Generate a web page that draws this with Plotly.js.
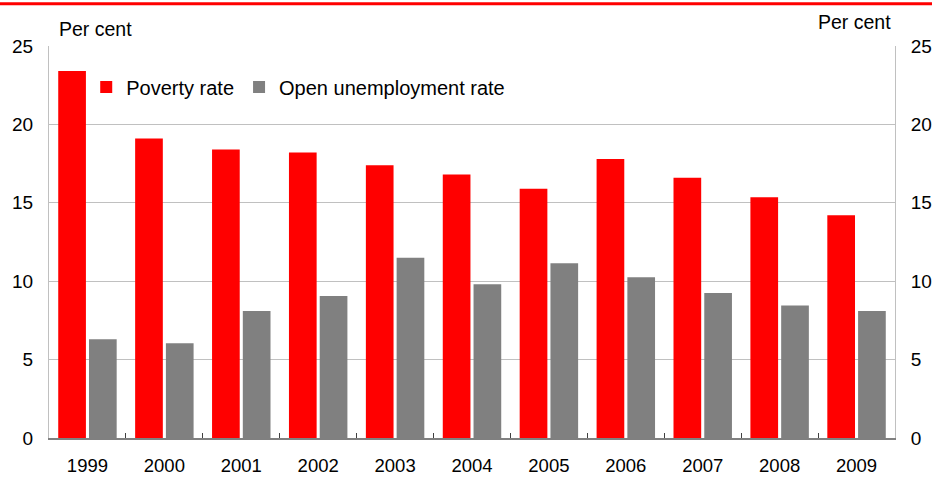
<!DOCTYPE html>
<html>
<head>
<meta charset="utf-8">
<script src="https://cdn.plot.ly/plotly-3.0.1.min.js"></script>
<style>html,body{margin:0;padding:0;background:#fff;}#chart{width:932px;height:477px;}</style>
</head>
<body>
<div id="chart"></div>
<script>
var years = ["1999","2000","2001","2002","2003","2004","2005","2006","2007","2008","2009"];
var povertyRate = [23.4, 19.1, 18.4, 18.2, 17.4, 16.8, 15.9, 17.8, 16.6, 15.35, 14.2];
var unemploymentRate = [6.3, 6.05, 8.1, 9.05, 11.5, 9.8, 11.15, 10.25, 9.25, 8.45, 8.1];
var yTicks = [0, 5, 10, 15, 20, 25];

var FAM = "Liberation Sans, Arial, sans-serif";
var font = {family: FAM, size: 19, color: "#000"};

var traces = [
  {type: "bar", name: "Poverty rate", x: years, y: povertyRate, marker: {color: "#FF0000"}, hoverinfo: "none"},
  {type: "bar", name: "Open unemployment rate", x: years, y: unemploymentRate, marker: {color: "#808080"}, hoverinfo: "none"},
  // carrier for the right-hand axis (invisible)
  {type: "scatter", mode: "markers", x: years, y: povertyRate, yaxis: "y2", showlegend: false,
   marker: {opacity: 0, size: 1}, hoverinfo: "none"}
];

var layout = {
  width: 932, height: 477,
  margin: {l: 49, r: 37, t: 46, b: 39, pad: 0, autoexpand: false},
  paper_bgcolor: "#fff", plot_bgcolor: "#fff",
  font: font,
  barmode: "group", bargap: 0.2, bargroupgap: 0.1,
  showlegend: true,
  legend: {orientation: "h", x: 0.044, y: 0.945, xanchor: "left", yanchor: "top",
           font: {family: FAM, size: 20, color: "#000"}, bgcolor: "rgba(0,0,0,0)",
           itemwidth: 30, tracegroupgap: 0},
  xaxis: {type: "category", range: [-0.5, years.length - 0.5], automargin: false, showgrid: false, showline: true,
          linecolor: "#808080", linewidth: 1.5,
          ticks: "inside", tickson: "boundaries", ticklen: 5, tickcolor: "#404040",
          ticklabelstandoff: 10, tickfont: {family: FAM, size: 18.5, color: "#000"}, fixedrange: true},
  yaxis: {range: [0, 25], automargin: false, tickvals: yTicks, ticktext: yTicks.map(String), showgrid: true, gridcolor: "#c0c0c0",
          showline: true, linecolor: "#c0c0c0", zeroline: false, ticks: "", ticklabelstandoff: 11,
          tickfont: font, fixedrange: true},
  yaxis2: {range: [0, 25], automargin: false, tickvals: yTicks, ticktext: yTicks.map(String), overlaying: "y", side: "right",
           showgrid: false, showline: true, linecolor: "#c0c0c0", zeroline: false, ticks: "", ticklabelstandoff: 11,
           tickfont: font, fixedrange: true},
  annotations: [
    {xref: "paper", yref: "paper", x: 0.0095, y: 1.0434, xanchor: "left", yanchor: "middle", showarrow: false,
     text: "Per cent", font: {family: FAM, size: 19.5, color: "#000"}},
    {xref: "paper", yref: "paper", x: 0.9976, y: 1.061, xanchor: "right", yanchor: "middle", showarrow: false,
     text: "Per cent", font: {family: FAM, size: 19.5, color: "#000"}}
  ],
  shapes: [
    {type: "line", xref: "paper", yref: "paper", x0: -0.06, x1: 1.05, y0: 1.108, y1: 1.108,
     line: {color: "#FF0000", width: 3}}
  ]
};

Plotly.newPlot("chart", traces, layout, {displayModeBar: false, staticPlot: true});
</script>
</body>
</html>
